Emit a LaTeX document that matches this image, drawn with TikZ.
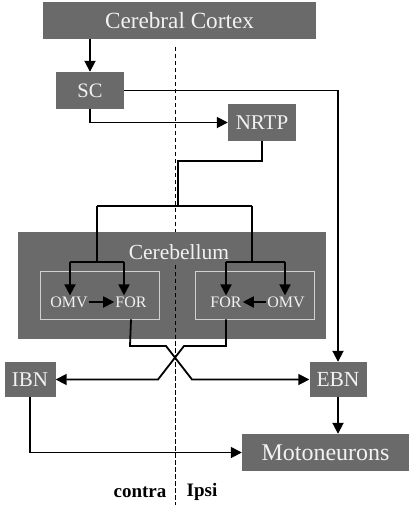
\documentclass[tikz,border=0pt]{standalone}
\usepackage{fontspec}
\setmainfont{Liberation Serif}
\usetikzlibrary{arrows.meta}
\definecolor{boxgray}{HTML}{6A6A6A}
\definecolor{boxtext}{HTML}{F2F2F2}
\definecolor{innerline}{HTML}{D0D0D0}
\tikzset{
  gbox/.style={fill=boxgray, draw=none, text=boxtext, inner sep=0pt, anchor=center},
  innerbox/.style={draw=innerline, line width=0.9pt, fill=none, inner sep=0pt},
  lbl/.style={text=boxtext, inner sep=1pt},
  conn/.style={line width=1.8pt, black},
  arr/.style={conn, -{Triangle[length=11pt,width=11pt]}},
  midline/.style={line width=1pt, dash pattern=on 4pt off 3pt}
}
\begin{document}
\begin{tikzpicture}[x=1pt,y=-1pt]
\useasboundingbox (0,0) rectangle (414,507);
% midline
\coordinate (mtop) at (175,47);
\coordinate (mbot) at (175,505);
\coordinate (mmid) at (175,265);
\draw[midline] (mtop) -- (mbot);
% boxes
\node[gbox, minimum width=273pt, minimum height=37pt, font=\fontsize{23.2}{27}\selectfont] (cortex) at (179.5,20.5) {Cerebral Cortex};
\node[gbox, minimum width=68pt, minimum height=37pt, font=\fontsize{20.5}{24}\selectfont] (sc) at (90,90.5) {SC};
\node[gbox, minimum width=68pt, minimum height=37pt, font=\fontsize{21}{24}\selectfont] (nrtp) at (262,122.5) {NRTP};
\node[gbox, minimum width=308pt, minimum height=107pt] (cereb) at (172,285.5) {};
\draw[midline] (mmid) -- (mbot);
\node[lbl, font=\fontsize{21.5}{25}\selectfont] (cereblbl) at (179,252) {Cerebellum};
\node[innerbox, minimum width=119pt, minimum height=48pt] (inL) at (99.5,295) {};
\node[innerbox, minimum width=119pt, minimum height=48pt] (inR) at (254.5,295) {};
\node[lbl, font=\fontsize{16}{19}\selectfont] (omvL) at (69,302) {OMV};
\node[lbl, font=\fontsize{16}{19}\selectfont] (forL) at (131,302) {FOR};
\node[lbl, font=\fontsize{16}{19}\selectfont] (forR) at (226,302) {FOR};
\node[lbl, font=\fontsize{16}{19}\selectfont] (omvR) at (286,302) {OMV};
\node[gbox, minimum width=51pt, minimum height=35pt, font=\fontsize{21}{24}\selectfont] (ibn) at (30,379.5) {IBN};
\node[gbox, minimum width=57pt, minimum height=35pt, font=\fontsize{21.5}{24}\selectfont] (ebn) at (338,379.5) {EBN};
\node[gbox, minimum width=167pt, minimum height=37pt, font=\fontsize{24}{28}\selectfont] (moto) at (325.5,452.5) {Motoneurons};
\node[font=\bfseries\fontsize{19}{22}\selectfont, inner sep=0pt] (contra) at (140,492) {contra};
\node[font=\bfseries\fontsize{19}{22}\selectfont, inner sep=0pt] (ipsi) at (202,492) {Ipsi};
% connectors
\draw[arr] (sc.north |- cortex.south) -- (sc.north);
\draw[arr] (sc.east) -| (ebn.north);
\draw[arr] (sc.south) |- (nrtp.west);
\coordinate (n1) at (262,161);
\coordinate (n2) at (178,161);
\coordinate (j) at (178,206);
\coordinate (jl) at (97,206);
\coordinate (jr) at (252,206);
\coordinate (bl) at (97,262);
\coordinate (br) at (252,262);
\coordinate (bl1) at (70,262);
\coordinate (bl2) at (124,262);
\coordinate (br1) at (226,262);
\coordinate (br2) at (285,262);
\draw[conn] (nrtp.south) -- (n1) -- (n2) -- (j);
\draw[conn] (jl) -- (jr);
\draw[conn] (jl) -- (bl);
\draw[conn] (jr) -- (br);
\draw[conn] (bl1) -- (bl2);
\draw[conn] (br1) -- (br2);
\draw[arr] (bl1) -- (bl1 |- omvL.north);
\draw[arr] (bl2) -- (bl2 |- forL.north);
\draw[arr] (br1) -- (br1 |- forR.north);
\draw[arr] (br2) -- (br2 |- omvR.north);
\draw[arr] (omvL.east) -- (forL.west);
\draw[arr] (omvR.west) -- (forR.east);
% crossing
\coordinate (cl1) at (130,346);
\coordinate (cl2) at (166,346);
\coordinate (cl3) at (192,379.5);
\coordinate (cr1) at (226,346);
\coordinate (cr2) at (184,346);
\coordinate (cr3) at (158,379.5);
\draw[arr, line join=miter] (forL.south |- inL.south) -- (cl1) -- (cl2) -- (cl3) -- (ebn.west);
\draw[arr, line join=miter] (forR.south |- inR.south) -- (cr1) -- (cr2) -- (cr3) -- (ibn.east);
\draw[arr] (ebn.south) -- (ebn.south |- moto.north);
\draw[arr] (ibn.south) |- (moto.west);
\end{tikzpicture}
\end{document}
